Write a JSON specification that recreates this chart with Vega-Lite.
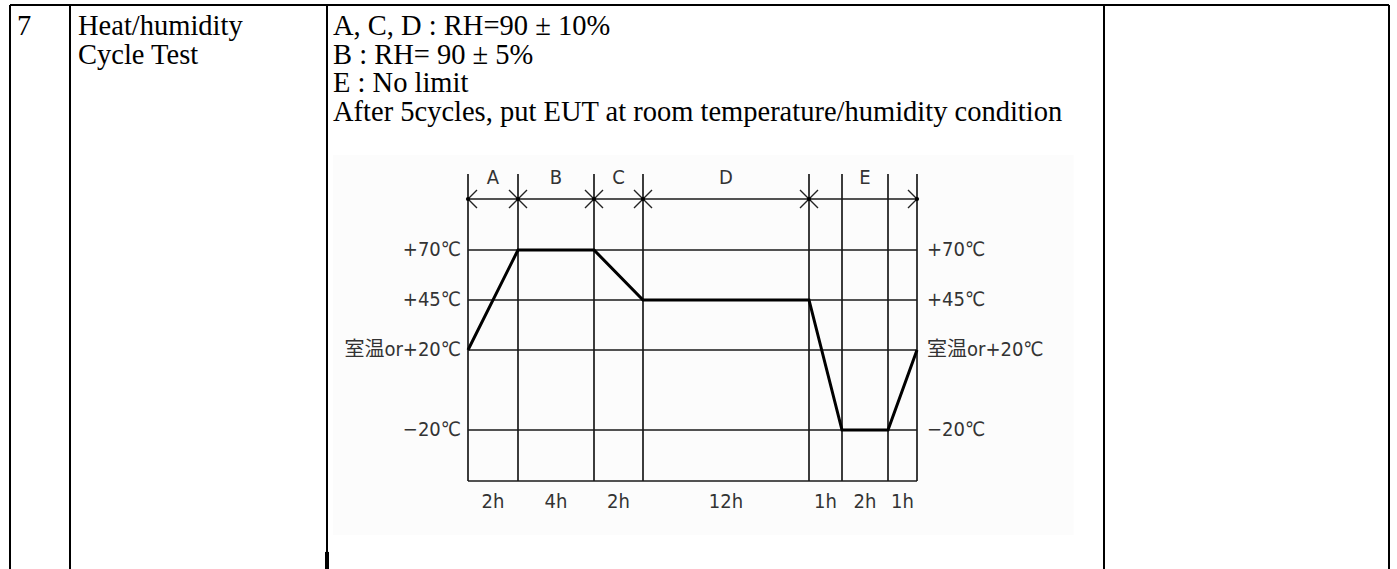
{
  "$schema": "https://vega.github.io/schema/vega-lite/v6.json",
  "padding": {"left": 9, "top": 4, "right": 0, "bottom": 0},
  "background": "white",
  "config": {"view": {"stroke": null}, "concat": {"spacing": 0}},
  "datasets": {
    "one": [{"k": 1}],
    "c1": [{"row": 1, "text": "7"}],
    "c2": [{"row": 1, "text": "Heat/humidity"}, {"row": 2, "text": "Cycle Test"}],
    "c3": [
      {"row": 1, "text": "A, C, D : RH=90 ± 10%"},
      {"row": 2, "text": "B : RH= 90 ± 5%"},
      {"row": 3, "text": "E : No limit"},
      {"row": 4, "text": "After 5cycles, put EUT at room temperature/humidity condition"}
    ],
    "levels": [
      {"t": 70, "label": "+70℃"},
      {"t": 45, "label": "+45℃"},
      {"t": 20, "label": "室温or+20℃"},
      {"t": -20, "label": "−20℃"}
    ],
    "frame": [{"t": -45.5}, {"t": 95.5}],
    "bounds": [
      {"h": 0, "mark": "start"},
      {"h": 2, "mark": "mid"},
      {"h": 6, "mark": "mid"},
      {"h": 8, "mark": "mid"},
      {"h": 20, "mark": "mid"},
      {"h": 21, "mark": "none"},
      {"h": 23, "mark": "none"},
      {"h": 24, "mark": "end"}
    ],
    "profile": [
      {"h": 0, "t": 20}, {"h": 2, "t": 70}, {"h": 6, "t": 70}, {"h": 8, "t": 45},
      {"h": 20, "t": 45}, {"h": 21, "t": -20}, {"h": 23, "t": -20}, {"h": 24, "t": 20}
    ],
    "periods": [
      {"h": 1, "p": "A"}, {"h": 4, "p": "B"}, {"h": 7, "p": "C"}, {"h": 14, "p": "D"}, {"h": 22, "p": "E"}
    ],
    "durations": [
      {"h": 1, "d": "2h"}, {"h": 4, "d": "4h"}, {"h": 7, "d": "2h"}, {"h": 14, "d": "12h"},
      {"h": 20.5, "d": "1h"}, {"h": 22, "d": "2h"}, {"h": 23.5, "d": "1h"}
    ]
  },
  "hconcat": [
    {
      "width": 60, "height": 564,
      "layer": [
        {"data": {"name": "one"}, "mark": {"type": "rule", "color": "#000", "strokeWidth": 2},
         "encoding": {"x": {"datum": 0, "type": "quantitative", "scale": {"domain": [0, 1], "nice": false}, "axis": null}}},
        {"data": {"name": "one"}, "mark": {"type": "rule", "color": "#000", "strokeWidth": 2},
         "encoding": {"y": {"datum": 0, "type": "quantitative", "scale": {"domain": [0, 19.789], "reverse": true, "nice": false}, "axis": null}}},
        {"data": {"name": "c1"}, "mark": {"type": "text", "align": "left", "baseline": "alphabetic", "dx": 7, "dy": 1.5, "font": "Liberation Serif", "fontSize": 28.5, "color": "#000"},
         "encoding": {
           "x": {"datum": 0, "type": "quantitative", "scale": {"domain": [0, 1], "nice": false}, "axis": null},
           "y": {"field": "row", "type": "quantitative", "scale": {"domain": [0, 19.789], "reverse": true, "nice": false}, "axis": null},
           "text": {"field": "text"}}}
      ]
    },
    {
      "width": 257, "height": 564,
      "layer": [
        {"data": {"name": "one"}, "mark": {"type": "rule", "color": "#000", "strokeWidth": 2},
         "encoding": {"x": {"datum": 0, "type": "quantitative", "scale": {"domain": [0, 1], "nice": false}, "axis": null}}},
        {"data": {"name": "one"}, "mark": {"type": "rule", "color": "#000", "strokeWidth": 2},
         "encoding": {"x": {"datum": 1, "type": "quantitative", "scale": {"domain": [0, 1], "nice": false}, "axis": null}}},
        {"data": {"name": "one"}, "mark": {"type": "rule", "color": "#000", "strokeWidth": 4},
         "encoding": {"x": {"datum": 1, "type": "quantitative", "scale": {"domain": [0, 1], "nice": false}, "axis": null},
                      "y": {"datum": 19.19, "type": "quantitative", "scale": {"domain": [0, 19.789], "reverse": true, "nice": false}, "axis": null},
                      "y2": {"datum": 19.789}}},
        {"data": {"name": "one"}, "mark": {"type": "rule", "color": "#000", "strokeWidth": 2},
         "encoding": {"y": {"datum": 0, "type": "quantitative", "scale": {"domain": [0, 19.789], "reverse": true, "nice": false}, "axis": null}}},
        {"data": {"name": "c2"}, "mark": {"type": "text", "align": "left", "baseline": "alphabetic", "dx": 8, "dy": 1.5, "font": "Liberation Serif", "fontSize": 28.5, "color": "#000"},
         "encoding": {
           "x": {"datum": 0, "type": "quantitative", "scale": {"domain": [0, 1], "nice": false}, "axis": null},
           "y": {"field": "row", "type": "quantitative", "scale": {"domain": [0, 19.789], "reverse": true, "nice": false}, "axis": null},
           "text": {"field": "text"}}}
      ]
    },
    {
      "width": 777, "height": 564,
      "resolve": {"scale": {"x": "independent", "y": "independent"}},
      "layer": [
        {
          "layer": [
            {"data": {"name": "one"}, "mark": {"type": "rule", "color": "#000", "strokeWidth": 2},
             "encoding": {"y": {"datum": 0, "type": "quantitative", "scale": {"domain": [0, 19.789], "reverse": true, "nice": false}, "axis": null}}},
            {"data": {"name": "one"}, "mark": {"type": "rule", "color": "#000", "strokeWidth": 2},
             "encoding": {"x": {"datum": 1, "type": "quantitative", "scale": {"domain": [0, 1], "nice": false}, "axis": null}}},
            {"data": {"name": "c3"}, "mark": {"type": "text", "align": "left", "baseline": "alphabetic", "dx": 6, "dy": 1.5, "font": "Liberation Serif", "fontSize": 28.5, "color": "#000"},
             "encoding": {
               "x": {"datum": 0, "type": "quantitative", "scale": {"domain": [0, 1], "nice": false}, "axis": null},
               "y": {"field": "row", "type": "quantitative", "scale": {"domain": [0, 19.789], "reverse": true, "nice": false}, "axis": null},
               "text": {"field": "text"}}}
          ]
        },
        {
          "encoding": {
            "x": {"type": "quantitative", "scale": {"domain": [0, 2, 6, 8, 20, 21, 23, 24], "range": [141, 191, 267, 316, 482, 515, 561, 590], "nice": false, "zero": false}, "axis": null},
            "y": {"type": "quantitative", "scale": {"domain": [-89.5, 192.5], "nice": false, "zero": false}, "axis": null}
          },
          "layer": [
            {"data": {"name": "one"}, "mark": {"type": "rect", "color": "#fcfcfc"},
             "encoding": {"x": {"datum": -5.4, "type": "quantitative"}, "x2": {"datum": 29.4}, "y": {"datum": 117.5, "type": "quantitative"}, "y2": {"datum": -72.5}}},
            {"data": {"name": "levels"}, "mark": {"type": "rule", "color": "#1a1a1a", "strokeWidth": 1.7},
             "encoding": {"y": {"field": "t", "type": "quantitative"}, "x": {"datum": 0, "type": "quantitative"}, "x2": {"datum": 24}}},
            {"data": {"name": "frame"}, "mark": {"type": "rule", "color": "#1a1a1a", "strokeWidth": 1.7},
             "encoding": {"y": {"field": "t", "type": "quantitative"}, "x": {"datum": 0, "type": "quantitative"}, "x2": {"datum": 24}}},
            {"data": {"name": "bounds"}, "mark": {"type": "rule", "color": "#1a1a1a", "strokeWidth": 1.7},
             "encoding": {"x": {"field": "h", "type": "quantitative"}, "y": {"datum": -45.5, "type": "quantitative"}, "y2": {"datum": 108}}},
            {"data": {"name": "bounds"}, "transform": [{"filter": "datum.mark != 'none'"}],
             "mark": {"type": "point", "filled": false, "color": "#222", "strokeWidth": 1.4, "opacity": 1, "size": 324},
             "encoding": {"x": {"field": "h", "type": "quantitative"}, "y": {"datum": 95.5, "type": "quantitative"},
               "shape": {"field": "mark", "type": "nominal", "legend": null,
                 "scale": {"domain": ["start", "mid", "end"], "range": ["M1,-1L0,0L1,1", "M-1,-1L1,1M-1,1L1,-1", "M-1,-1L0,0L-1,1"]}}}},
            {"data": {"name": "bounds"}, "transform": [{"filter": "datum.mark != 'none'"}],
             "mark": {"type": "circle", "color": "#000", "opacity": 1, "size": 18},
             "encoding": {"x": {"field": "h", "type": "quantitative"}, "y": {"datum": 95.5, "type": "quantitative"}}},
            {"data": {"name": "profile"}, "mark": {"type": "line", "color": "#000", "strokeWidth": 3},
             "encoding": {"x": {"field": "h", "type": "quantitative"}, "y": {"field": "t", "type": "quantitative"}}},
            {"data": {"name": "levels"}, "mark": {"type": "text", "align": "right", "baseline": "middle", "dx": -7, "font": "Liberation Sans Narrow, DejaVu Sans Condensed, Noto Sans CJK JP, sans-serif", "fontSize": 20, "color": "#333"},
             "encoding": {"x": {"datum": 0, "type": "quantitative"}, "y": {"field": "t", "type": "quantitative"}, "text": {"field": "label"}}},
            {"data": {"name": "levels"}, "mark": {"type": "text", "align": "left", "baseline": "middle", "dx": 10, "font": "Liberation Sans Narrow, DejaVu Sans Condensed, Noto Sans CJK JP, sans-serif", "fontSize": 20, "color": "#333"},
             "encoding": {"x": {"datum": 24, "type": "quantitative"}, "y": {"field": "t", "type": "quantitative"}, "text": {"field": "label"}}},
            {"data": {"name": "periods"}, "mark": {"type": "text", "align": "center", "baseline": "middle", "font": "Liberation Sans Narrow, DejaVu Sans Condensed, Noto Sans CJK JP, sans-serif", "fontSize": 20, "color": "#333"},
             "encoding": {"x": {"field": "h", "type": "quantitative"}, "y": {"datum": 106, "type": "quantitative"}, "text": {"field": "p"}}},
            {"data": {"name": "durations"}, "mark": {"type": "text", "align": "center", "baseline": "middle", "font": "Liberation Sans Narrow, DejaVu Sans Condensed, Noto Sans CJK JP, sans-serif", "fontSize": 20, "color": "#333"},
             "encoding": {"x": {"field": "h", "type": "quantitative"}, "y": {"datum": -56, "type": "quantitative"}, "text": {"field": "d"}}}
          ]
        }
      ]
    },
    {
      "width": 285, "height": 564,
      "layer": [
        {"data": {"name": "one"}, "mark": {"type": "rule", "color": "#000", "strokeWidth": 2},
         "encoding": {"x": {"datum": 1, "type": "quantitative", "scale": {"domain": [0, 1], "nice": false}, "axis": null}}},
        {"data": {"name": "one"}, "mark": {"type": "rule", "color": "#000", "strokeWidth": 2},
         "encoding": {"y": {"datum": 0, "type": "quantitative", "scale": {"domain": [0, 19.789], "reverse": true, "nice": false}, "axis": null}}}
      ]
    }
  ],
  "spacing": 0,
  "bounds": "flush"
}
